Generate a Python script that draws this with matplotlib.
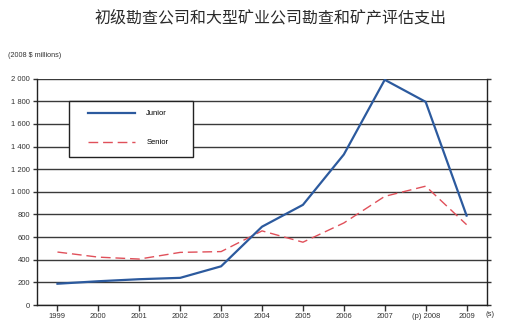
import matplotlib
matplotlib.use('Agg')
import matplotlib.pyplot as plt
from matplotlib.patches import Rectangle

plt.rcParams['font.family'] = ['Liberation Sans', 'DejaVu Sans']

# 勘查支出（2008 年百万美元）
years = [1999, 2000, 2001, 2002, 2003, 2004, 2005, 2006, 2007, 2008, 2009]
year_labels = ['1999', '2000', '2001', '2002', '2003', '2004', '2005',
               '2006', '2007', '(p) 2008', '2009']
junior = [188, 210, 228, 240, 342, 692, 885, 1330, 1990, 1795, 790]
senior = [468, 423, 406, 465, 472, 655, 555, 725, 960, 1050, 710]
y_ticks = [0, 200, 400, 600, 800, 1000, 1200, 1400, 1600, 1800, 2000]
y_labels = ['0', '200', '400', '600', '800', '1 000', '1 200', '1 400',
            '1 600', '1 800', '2 000']

fig = plt.figure(figsize=(5.07, 3.25), dpi=100)
ax = fig.add_axes([0.073, 0.0615, 0.8876, 0.6965])

# 水平网格线
for v in y_ticks:
    ax.axhline(v, color='#3a3a3a', lw=1.0, zorder=1)

ax.plot(years, senior, color='#e0505a', lw=1.0, dashes=(7, 3.5),
        label='Senior', zorder=3)
ax.plot(years, junior, color='#2c5a9e', lw=1.6, label='Junior', zorder=4)

ax.set_xlim(1998.5, 2009.5)
ax.set_ylim(0, 2000)
ax.set_xticks(years)
ax.set_xticklabels(year_labels)
ax.set_yticks(y_ticks)
ax.set_yticklabels(y_labels)
ax.tick_params(axis='both', labelsize=5.5, colors='#333333', length=4,
               width=1.0, direction='out', pad=2)
ax.tick_params(axis='y', right=True, length=3)

ax.spines['top'].set_visible(False)
for side in ['left', 'right', 'bottom']:
    ax.spines[side].set_color('#222222')
    ax.spines[side].set_linewidth(1.0)

# 图例框
box = Rectangle((0.071, 0.654), 0.275, 0.247, transform=ax.transAxes,
                facecolor='white', edgecolor='#222222', lw=1.0, zorder=5)
ax.add_patch(box)

handles, labels = ax.get_legend_handles_labels()
leg = ax.legend(handles[::-1], labels[::-1], loc='upper left',
                bbox_to_anchor=(0.113, 0.862), fontsize=5.5,
                handlelength=6.2, handletextpad=1.45, labelspacing=2.85,
                borderpad=0, borderaxespad=0, frameon=False)
leg.set_zorder(6)

fig.text(0.533, 0.945, '初级勘查公司和大型矿业公司勘查和矿产评估支出',
         ha='center', va='center', fontsize=11.5, color='#2a2a2a',
         family=['Noto Sans CJK SC', 'DejaVu Sans'])
fig.text(0.016, 0.828, '(2008 $ millions)', ha='left', va='center',
         fontsize=5.2, color='#333333')
fig.text(0.958, 0.033, '(s)', ha='left', va='center', fontsize=5.5,
         color='#333333')

fig.savefig('out.png', dpi=100)
